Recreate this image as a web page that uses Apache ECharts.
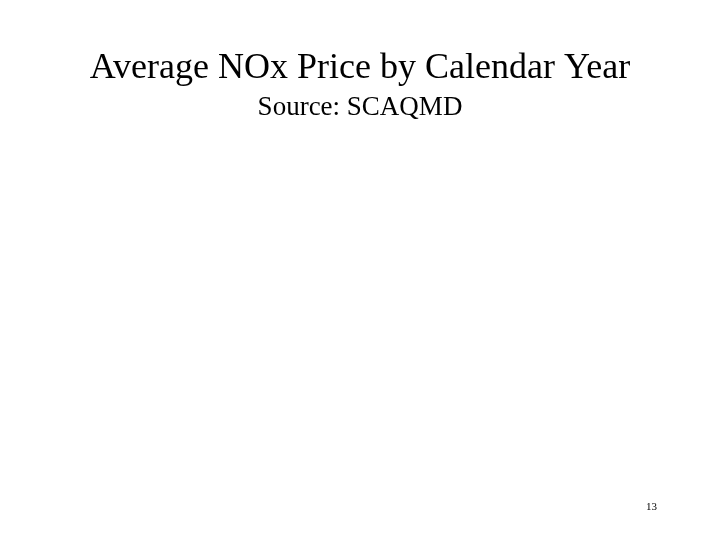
<!DOCTYPE html>
<html>
<head>
<meta charset="utf-8">
<script src="https://cdn.jsdelivr.net/npm/echarts@6/dist/echarts.min.js"></script>
<style>
html, body { margin: 0; padding: 0; background: #fff; }
#main { width: 720px; height: 540px; }
</style>
</head>
<body>
<div id="main"></div>
<script>
// slide texts (the chart body itself is empty on this slide)
var chartTitle = 'Average NOx Price by Calendar Year';
var chartSource = 'Source: SCAQMD';
var pageNumber = '13';

var myChart = echarts.init(document.getElementById('main'));

var option = {
    backgroundColor: '#ffffff',
    animation: false,
    title: [{
        text: chartTitle,
        left: 'center',
        top: 46,
        textStyle: {
            fontFamily: 'Liberation Serif',
            fontWeight: 'normal',
            fontSize: 36,
            color: '#000'
        }
    }, {
        text: chartSource,
        left: 'center',
        top: 89,
        textStyle: {
            fontFamily: 'Liberation Serif',
            fontWeight: 'normal',
            fontSize: 27,
            color: '#000'
        }
    }, {
        text: pageNumber,
        left: 641,
        top: 497,
        textStyle: {
            fontFamily: 'Liberation Serif',
            fontWeight: 'normal',
            fontSize: 11,
            color: '#000'
        }
    }]
};

myChart.setOption(option);
</script>
</body>
</html>
